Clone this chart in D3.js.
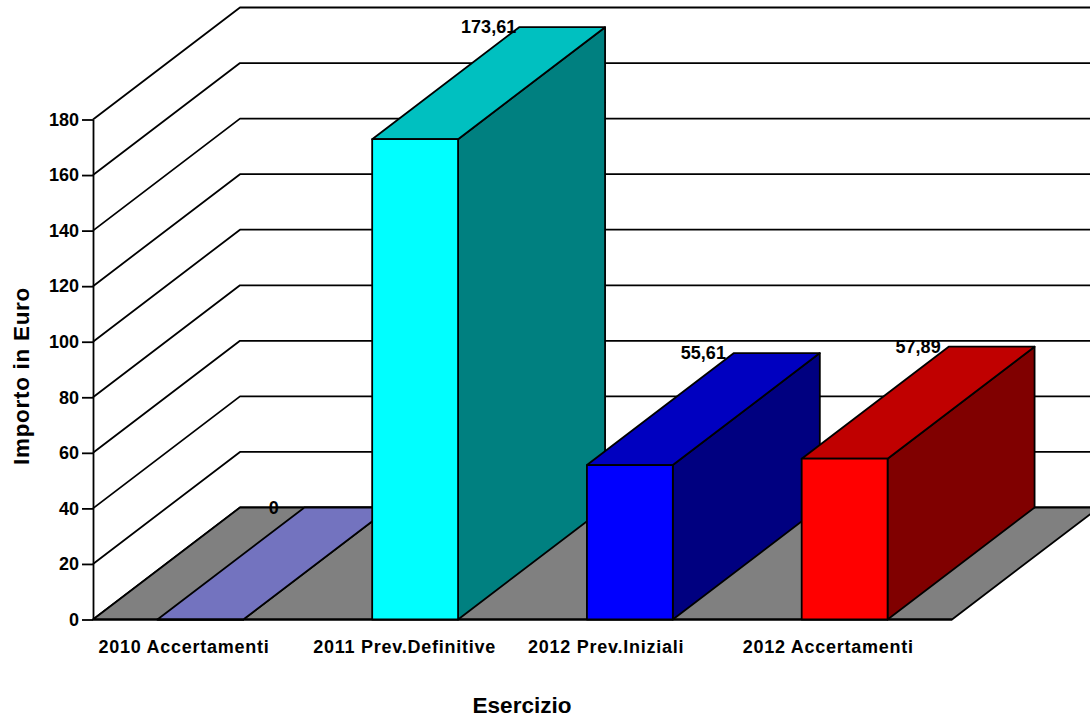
<!DOCTYPE html>
<html><head><meta charset="utf-8">
<script src="https://cdn.jsdelivr.net/npm/d3@7/dist/d3.min.js"></script>
<style>html,body{margin:0;padding:0;background:#fff}svg{display:block}text{font-family:"Liberation Sans",Arial,sans-serif;font-weight:bold;fill:#000}</style>
</head><body><svg id="c" width="1090" height="724"></svg>
<script>
const categories=["2010 Accertamenti","2011 Prev.Definitive","2012 Prev.Iniziali","2012 Accertamenti"];
const values=[0,172.9,55.61,57.89];
const valueLabels=["0","173,61","55,61","57,89"];
const frontColors=["#7373bf","#00ffff","#0000ff","#ff0000"];
const topColors=["#7373bf","#00c0c0","#0000c0","#c00000"];
const sideColors=["#7373bf","#008080","#000080","#800000"];
const yTicks=[0,20,40,60,80,100,120,140,160,180];
const svg=d3.select("#c");
const dx=147,dy=-112;
const x=d3.scaleBand().domain(categories).range([93,952]).paddingInner(0.6).paddingOuter(0.3);
const y=d3.scaleLinear().domain([0,180]).range([619.5,119.5]);
const line=d3.line();
const stroke=g=>g.attr("stroke","#000").attr("stroke-width",1.8).attr("stroke-linejoin","round");
svg.append("g").call(stroke).attr("fill","none").selectAll("path").data(yTicks).join("path")
 .attr("d",t=>line([[93,y(t)],[93+dx,y(t)+dy],[1090,y(t)+dy]]));
const x0=93,x1=952;
svg.append("path").call(stroke).attr("fill","#808080")
 .attr("d",line([[x0,y(0)],[x0+dx,y(0)+dy],[x1+dx,y(0)+dy],[x1,y(0)]])+"Z");
const ax=svg.append("g").attr("transform","translate(93,0)").call(d3.axisLeft(y).tickValues(yTicks).tickSize(11).tickPadding(3).tickSizeOuter(0));
ax.select(".domain").attr("stroke","#000").attr("stroke-width",1.8);
ax.selectAll("line").attr("stroke","#000").attr("stroke-width",1.8);
ax.selectAll("text").attr("font-size",18).attr("font-family",null).style("fill","#000");
svg.append("line").call(stroke).attr("x1",93).attr("x2",952).attr("y1",y(0)).attr("y2",y(0));
const bars=svg.append("g").selectAll("g").data(categories).join("g").call(stroke);
bars.each(function(c,i){
 const g=d3.select(this),l=x(c),r=l+x.bandwidth(),t=y(values[i]),b=y(0);
 g.append("path").attr("fill",sideColors[i]).attr("d",line([[r,b],[r+dx,b+dy],[r+dx,t+dy],[r,t]])+"Z");
 g.append("path").attr("fill",topColors[i]).attr("d",line([[l,t],[l+dx,t+dy],[r+dx,t+dy],[r,t]])+"Z");
 g.append("path").attr("fill",frontColors[i]).attr("d",line([[l,b],[l,t],[r,t],[r,b]])+"Z");
});
svg.append("g").selectAll("text").data(categories).join("text")
 .attr("x",c=>x(c)+x.bandwidth()/2+dx/2).attr("y",(c,i)=>y(values[i])+dy+6)
 .attr("text-anchor","middle").attr("font-size",18).text((c,i)=>valueLabels[i]);
svg.append("g").selectAll("text").data(categories).join("text")
 .attr("x",c=>x(c)-59).attr("y",653)
 .attr("font-size",18).attr("letter-spacing",0.75).text(c=>c);
svg.append("text").attr("x",522).attr("y",713).attr("text-anchor","middle").attr("font-size",22.5).text("Esercizio");
svg.append("text").attr("transform","translate(29,376) rotate(-90)").attr("text-anchor","middle").attr("font-size",22.5).attr("letter-spacing",0.7).text("Importo in Euro");
</script></body></html>
